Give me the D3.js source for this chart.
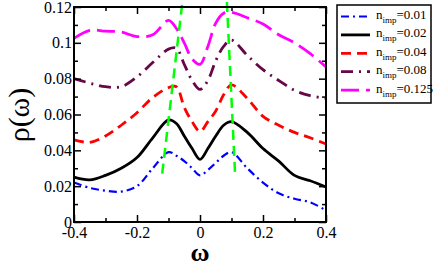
<!DOCTYPE html>
<html>
<head>
<meta charset="utf-8">
<script src="https://cdn.jsdelivr.net/npm/d3@7"></script>
<style>
  body { margin: 0; background: #fff; }
</style>
</head>
<body>
<svg id="chart" width="436" height="264"></svg>
<script>
// data
var omega = [-0.4, -0.35, -0.3, -0.25, -0.2, -0.15, -0.1, -0.075, -0.05, -0.025, 0, 0.025, 0.05, 0.075, 0.1, 0.15, 0.2, 0.25, 0.3, 0.35, 0.4];
var rho001 = [0.022, 0.019, 0.0175, 0.017, 0.020, 0.030, 0.039, 0.037, 0.034, 0.030, 0.026, 0.029, 0.033, 0.037, 0.039, 0.030, 0.022, 0.016, 0.013, 0.011, 0.0065];
var rho002 = [0.025, 0.0235, 0.026, 0.030, 0.036, 0.047, 0.057, 0.055, 0.048, 0.041, 0.035, 0.041, 0.048, 0.054, 0.056, 0.050, 0.041, 0.034, 0.026, 0.023, 0.0195];
var rho004 = [0.0458, 0.0445, 0.048, 0.054, 0.061, 0.0695, 0.075, 0.0755, 0.064, 0.056, 0.0505, 0.056, 0.062, 0.071, 0.0765, 0.069, 0.059, 0.054, 0.050, 0.047, 0.0435];
var rho008 = [0.080, 0.0775, 0.0755, 0.0755, 0.081, 0.089, 0.0965, 0.097, 0.088, 0.079, 0.074, 0.079, 0.090, 0.098, 0.1015, 0.093, 0.085, 0.079, 0.0735, 0.0705, 0.069];
var rho0125 = [0.1025, 0.107, 0.1065, 0.106, 0.1035, 0.1045, 0.1125, 0.108, 0.100, 0.091, 0.088, 0.098, 0.111, 0.1165, 0.117, 0.114, 0.1105, 0.1045, 0.100, 0.094, 0.0865];

// green dashed guide lines
var greenLeftW = [-0.12, -0.055];
var greenLeftR = [0.027, 0.124];
var greenRightW = [0.111, 0.085];
var greenRightR = [0.028, 0.124];

var labels = ["0.01", "0.02", "0.04", "0.08", "0.125"];
var xTicks = [-0.4, -0.2, 0, 0.2, 0.4];
var yTicks = [0, 0.02, 0.04, 0.06, 0.08, 0.1, 0.12];

var series = [
  { label: labels[0], values: rho001, color: "#0000ff", dash: "8,4,2,4", width: 2.2 },
  { label: labels[1], values: rho002, color: "#000000", dash: null, width: 2.8 },
  { label: labels[2], values: rho004, color: "#ff0000", dash: "10,6", width: 2.8 },
  { label: labels[3], values: rho008, color: "#670748", dash: "12,6,2,6", width: 2.8 },
  { label: labels[4], values: rho0125, color: "#ff00ff", dash: "18,7", width: 2.8 }
];

var serif = "'Liberation Serif', 'Times New Roman', Times, serif";
var svg = d3.select("#chart");
var mLeft = 74, mRight = 326, mTop = 7, mBottom = 222;

var x = d3.scaleLinear().domain([-0.4, 0.4]).range([mLeft, mRight]);
var y = d3.scaleLinear().domain([0, 0.12]).range([mBottom, mTop]);

var line = d3.line()
  .x(function(d) { return x(d[0]); })
  .y(function(d) { return y(d[1]); })
  .curve(d3.curveCatmullRom.alpha(0.5));

var plot = svg.append("g");

series.forEach(function(s) {
  plot.append("path")
    .datum(omega.map(function(w, i) { return [w, s.values[i]]; }))
    .attr("d", line)
    .attr("fill", "none")
    .attr("stroke", s.color)
    .attr("stroke-width", s.width)
    .attr("stroke-dasharray", s.dash);
});

[[greenLeftW, greenLeftR], [greenRightW, greenRightR]].forEach(function(g) {
  plot.append("path")
    .datum(g[0].map(function(w, i) { return [w, g[1][i]]; }))
    .attr("d", d3.line().x(function(d) { return x(d[0]); }).y(function(d) { return y(d[1]); }))
    .attr("fill", "none")
    .attr("stroke", "#00ff00")
    .attr("stroke-width", 2.5)
    .attr("stroke-dasharray", "10,6");
});

// axes, ticks pointing inward
var minorX = [-0.3, -0.1, 0.1, 0.3];
var minorY = [0.01, 0.03, 0.05, 0.07, 0.09, 0.11];

function fmt(d) {
  if (d === 0) return "0";
  return String(+d.toFixed(2));
}
function fmtX(d) {
  if (d === 0) return "0";
  return (d < 0 ? "-" : "") + Math.abs(d).toFixed(1);
}

var axB = svg.append("g").attr("transform", "translate(0," + mBottom + ")")
  .call(d3.axisBottom(x).tickValues(xTicks).tickSizeInner(-7).tickSizeOuter(0).tickFormat(fmtX));
axB.selectAll("text").attr("y", 5).attr("dy", "0.71em");
svg.append("g").attr("transform", "translate(0," + mBottom + ")")
  .call(d3.axisBottom(x).tickValues(minorX).tickSizeInner(-4).tickSizeOuter(0).tickFormat(""));

svg.append("g").attr("transform", "translate(0," + mTop + ")")
  .call(d3.axisTop(x).tickValues(xTicks).tickSizeInner(-7).tickSizeOuter(0).tickFormat(""));
svg.append("g").attr("transform", "translate(0," + mTop + ")")
  .call(d3.axisTop(x).tickValues(minorX).tickSizeInner(-4).tickSizeOuter(0).tickFormat(""));

var axL = svg.append("g").attr("transform", "translate(" + mLeft + ",0)")
  .call(d3.axisLeft(y).tickValues(yTicks).tickSizeInner(-7).tickSizeOuter(0).tickFormat(fmt));
axL.selectAll("text").attr("x", -2);
svg.append("g").attr("transform", "translate(" + mLeft + ",0)")
  .call(d3.axisLeft(y).tickValues(minorY).tickSizeInner(-4).tickSizeOuter(0).tickFormat(""));

svg.append("g").attr("transform", "translate(" + mRight + ",0)")
  .call(d3.axisRight(y).tickValues(yTicks).tickSizeInner(-7).tickSizeOuter(0).tickFormat(""));
svg.append("g").attr("transform", "translate(" + mRight + ",0)")
  .call(d3.axisRight(y).tickValues(minorY).tickSizeInner(-4).tickSizeOuter(0).tickFormat(""));

svg.selectAll(".domain").remove();
svg.selectAll(".tick line").attr("stroke", "#000").attr("stroke-width", 1.5);
svg.selectAll(".tick text").attr("fill", "#000")
  .style("font-family", serif).style("font-size", "16px");

svg.append("rect")
  .attr("x", mLeft).attr("y", mTop)
  .attr("width", mRight - mLeft).attr("height", mBottom - mTop)
  .attr("fill", "none").attr("stroke", "#000").attr("stroke-width", 2);

// axis labels
svg.append("text")
  .attr("transform", "translate(29,115) rotate(-90)")
  .attr("text-anchor", "middle")
  .style("font-family", serif).style("font-size", "30px")
  .text("ρ(ω)");

svg.append("text")
  .attr("x", x(0)).attr("y", 261)
  .attr("text-anchor", "middle")
  .style("font-family", serif).style("font-size", "26px").style("font-weight", "bold")
  .text("ω");

// legend
var legend = svg.append("g");
legend.append("rect")
  .attr("x", 337).attr("y", 5).attr("width", 94).attr("height", 98)
  .attr("fill", "#fff").attr("stroke", "#000").attr("stroke-width", 1.5);

series.forEach(function(s, i) {
  var ly = 16.5 + i * 18.4;
  legend.append("line")
    .attr("x1", 341).attr("x2", 370).attr("y1", ly).attr("y2", ly)
    .attr("stroke", s.color).attr("stroke-width", s.width)
    .attr("stroke-dasharray", s.dash);
  var t = legend.append("text")
    .attr("x", 376).attr("y", ly + 2.5)
    .style("font-family", serif).style("font-size", "13px");
  t.append("tspan").text("n");
  t.append("tspan").style("font-size", "9px").attr("dy", 4).text("imp");
  t.append("tspan").attr("dy", -4).text("=" + s.label);
});
</script>
</body>
</html>
